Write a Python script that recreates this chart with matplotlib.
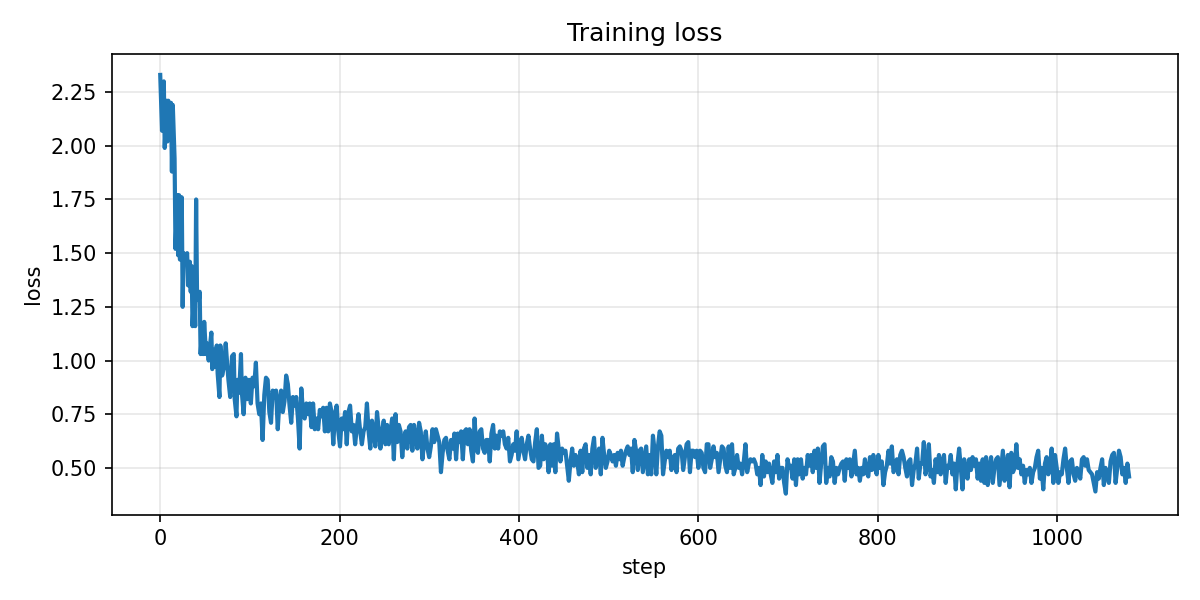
import numpy as np
import matplotlib
matplotlib.use("Agg")
import matplotlib.pyplot as plt

# Early phase (read at roughly per-step resolution)
early_steps = [0, 2, 4, 5, 7, 8, 9, 10, 12, 13, 14, 16, 17, 19, 20, 21, 22, 24, 25, 26,
               28, 30, 31, 33, 34, 35, 36, 38, 39, 40, 41, 43, 44, 45, 47, 48, 49, 51, 52, 54,
               55, 57, 58, 60, 61, 63, 64, 66, 67, 69, 71, 73, 74, 76, 78, 80, 82, 83, 85, 86,
               88, 90, 91, 93, 95, 97, 99]
early_loss = [2.33, 2.07, 2.30, 1.99, 2.21, 2.02, 2.21, 2.07, 2.20, 1.88, 2.19, 1.94, 1.52, 1.77, 1.49, 1.77, 1.47, 1.76, 1.25, 1.50,
              1.46, 1.50, 1.35, 1.46, 1.32, 1.44, 1.16, 1.35, 1.16, 1.75, 1.32, 1.28, 1.32, 1.03, 1.17, 1.03, 1.18, 1.03, 1.08, 1.00,
              1.05, 1.13, 0.96, 1.05, 0.97, 1.07, 0.94, 0.83, 1.07, 0.93, 0.97, 1.08, 1.02, 0.91, 0.83, 1.02, 1.03, 0.82, 0.74, 0.91,
              0.85, 1.03, 0.85, 0.75, 0.92, 0.82, 0.91]

# Later phase, steps 101..1080 (at ~2-step resolution)
late_loss_a = [0.80, 0.92, 0.88, 0.99, 0.80, 0.75, 0.80, 0.63, 0.84, 0.92, 0.91, 0.76, 0.71, 0.86, 0.83, 0.86, 0.68, 0.81, 0.86, 0.76,
               0.81, 0.93, 0.89, 0.79, 0.71, 0.83, 0.79, 0.83, 0.73, 0.59, 0.87, 0.76, 0.73, 0.80, 0.75, 0.80, 0.69, 0.80, 0.68, 0.73,
               0.68, 0.77, 0.74, 0.78, 0.67, 0.78, 0.67, 0.80, 0.76, 0.61, 0.75, 0.79, 0.67, 0.60, 0.73, 0.68, 0.76, 0.61, 0.76, 0.79,
               0.67, 0.70, 0.61, 0.69, 0.75, 0.67, 0.61, 0.67, 0.69, 0.80, 0.67, 0.59, 0.72, 0.67, 0.60, 0.76, 0.68, 0.59, 0.67, 0.72,
               0.61, 0.70, 0.61, 0.67, 0.73, 0.54, 0.75, 0.62, 0.70, 0.67, 0.55, 0.64, 0.67, 0.59, 0.69, 0.70, 0.58, 0.70, 0.64, 0.59,
               0.71, 0.67, 0.54, 0.62, 0.67, 0.59]
late_loss_b = [0.55, 0.60, 0.68, 0.62, 0.68, 0.65, 0.62, 0.48, 0.57, 0.63, 0.64, 0.58, 0.54, 0.63, 0.59, 0.66, 0.54, 0.66, 0.62, 0.67,
               0.54, 0.67, 0.68, 0.61, 0.68, 0.58, 0.53, 0.73, 0.59, 0.57, 0.67, 0.68, 0.59, 0.57, 0.63, 0.63, 0.53, 0.66, 0.70, 0.59,
               0.65, 0.59, 0.67, 0.65, 0.67, 0.61, 0.59, 0.64, 0.53, 0.56, 0.61, 0.58, 0.67, 0.54, 0.59, 0.64, 0.58, 0.54, 0.61, 0.65,
               0.59, 0.54, 0.53, 0.62, 0.68, 0.50, 0.51, 0.65, 0.54, 0.61, 0.58, 0.48, 0.61, 0.51, 0.61, 0.48, 0.66, 0.59, 0.53, 0.59,
               0.57, 0.58, 0.51, 0.44, 0.53, 0.59, 0.51, 0.56, 0.53, 0.47, 0.58, 0.48, 0.59, 0.61, 0.50, 0.56, 0.47, 0.59, 0.64, 0.50,
               0.54, 0.59, 0.47, 0.64, 0.56, 0.50, 0.53, 0.58]
late_loss_c = [0.56, 0.53, 0.56, 0.51, 0.57, 0.54, 0.58, 0.51, 0.55, 0.58, 0.60, 0.56, 0.59, 0.48, 0.63, 0.58, 0.49, 0.58, 0.59, 0.48,
               0.54, 0.60, 0.47, 0.56, 0.47, 0.65, 0.58, 0.47, 0.60, 0.67, 0.65, 0.47, 0.53, 0.58, 0.55, 0.58, 0.49, 0.54, 0.56, 0.48,
               0.59, 0.60, 0.58, 0.49, 0.55, 0.61, 0.62, 0.48, 0.58, 0.58, 0.55, 0.58, 0.50, 0.58, 0.57, 0.50, 0.48, 0.61, 0.61, 0.50,
               0.54, 0.60, 0.55, 0.57, 0.48, 0.54, 0.60, 0.59, 0.51, 0.48, 0.60, 0.50, 0.61, 0.47, 0.50, 0.56, 0.50, 0.52, 0.47, 0.53,
               0.61, 0.48, 0.52, 0.54, 0.53, 0.54, 0.52, 0.47, 0.50, 0.42, 0.56, 0.46, 0.53, 0.48, 0.52, 0.47, 0.43, 0.53, 0.48, 0.56,
               0.45, 0.50, 0.50, 0.43, 0.38, 0.54, 0.50, 0.51]
late_loss_d = [0.45, 0.54, 0.42, 0.54, 0.47, 0.54, 0.45, 0.50, 0.47, 0.56, 0.51, 0.56, 0.48, 0.58, 0.50, 0.59, 0.43, 0.52, 0.60, 0.61,
               0.43, 0.50, 0.46, 0.55, 0.53, 0.43, 0.50, 0.47, 0.50, 0.52, 0.53, 0.44, 0.54, 0.50, 0.54, 0.46, 0.52, 0.58, 0.47, 0.50,
               0.44, 0.50, 0.47, 0.54, 0.48, 0.46, 0.55, 0.49, 0.56, 0.50, 0.47, 0.56, 0.50, 0.53, 0.42, 0.48, 0.51, 0.58, 0.52, 0.60,
               0.48, 0.50, 0.54, 0.47, 0.56, 0.58, 0.55, 0.50, 0.46, 0.53, 0.54, 0.42, 0.49, 0.52, 0.59, 0.45, 0.52, 0.52, 0.62, 0.47,
               0.51, 0.61, 0.46, 0.49, 0.43, 0.54, 0.48, 0.56, 0.47, 0.53, 0.56, 0.43, 0.51, 0.50, 0.56, 0.47, 0.52, 0.40, 0.52, 0.59,
               0.50, 0.40, 0.54, 0.49, 0.45, 0.54, 0.49, 0.55, 0.51]
late_loss_e = [0.54, 0.45, 0.52, 0.44, 0.54, 0.43, 0.55, 0.42, 0.50, 0.55, 0.43, 0.50, 0.54, 0.55, 0.42, 0.50, 0.58, 0.44, 0.51, 0.56,
               0.41, 0.57, 0.48, 0.50, 0.61, 0.50, 0.54, 0.47, 0.51, 0.43, 0.49, 0.47, 0.50, 0.43, 0.48, 0.50, 0.55, 0.58, 0.45, 0.50,
               0.40, 0.52, 0.55, 0.47, 0.50, 0.59, 0.43, 0.56, 0.50, 0.43, 0.48, 0.47, 0.54, 0.59, 0.50, 0.43, 0.53, 0.54, 0.47, 0.44,
               0.50, 0.48, 0.45, 0.54, 0.55, 0.51, 0.54, 0.49, 0.48, 0.47, 0.43, 0.39, 0.48, 0.45, 0.50, 0.54, 0.42, 0.50, 0.47, 0.43,
               0.53, 0.56, 0.57, 0.43, 0.50, 0.58, 0.55, 0.47, 0.50, 0.43, 0.52, 0.46]

late_loss = late_loss_a + late_loss_b + late_loss_c + late_loss_d + late_loss_e
late_steps = np.linspace(101, 1080, len(late_loss))

steps = np.concatenate([np.array(early_steps, dtype=float), late_steps])
loss = np.concatenate([np.array(early_loss), np.array(late_loss)])

fig, ax = plt.subplots(figsize=(8, 4), dpi=150)
ax.plot(steps, loss, color="#1f77b4", linewidth=2.0)
ax.set_title("Training loss")
ax.set_xlabel("step")
ax.set_ylabel("loss")
ax.grid(True, alpha=0.3)
fig.tight_layout()
fig.savefig("out.png", dpi=150)
